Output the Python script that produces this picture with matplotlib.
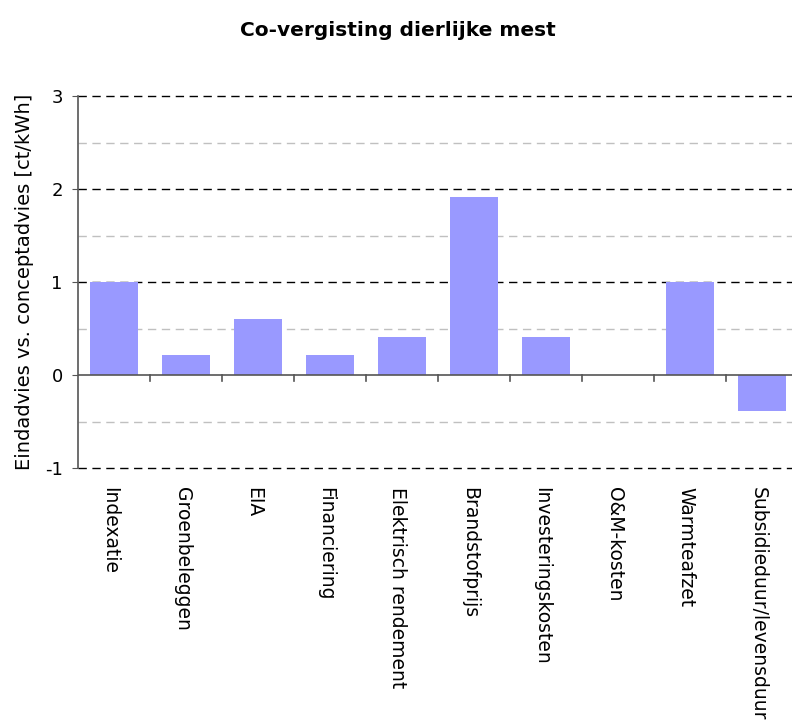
import matplotlib
matplotlib.use("Agg")
import matplotlib.pyplot as plt
import matplotlib.transforms as mtransforms
import numpy as np

categories = ["Indexatie", "Groenbeleggen", "EIA", "Financiering", "Elektrisch rendement",
              "Brandstofprijs", "Investeringskosten", "O&M-kosten", "Warmteafzet",
              "Subsidieduur/levensduur"]
values = [1.0, 0.22, 0.6, 0.22, 0.41, 1.91, 0.41, 0.0, 1.0, -0.39]
yticks = [-1, 0, 1, 2, 3]
title = "Co-vergisting dierlijke mest"
ylabel = "Eindadvies vs. conceptadvies [ct/kWh]"

plt.rcParams['font.family'] = ['DejaVu Sans']
W, H = 792, 725
fig = plt.figure(figsize=(W / 100, H / 100), dpi=100)
left, right, top, bottom = 78, 798, 96, 468
ax = fig.add_axes([left / W, 1 - bottom / H, (right - left) / W, (bottom - top) / H])

x = np.arange(len(categories))
ax.bar(x, values, width=0.68, color="#9999FF", zorder=3)
ax.set_xlim(-0.5, len(categories) - 0.5)
ax.set_ylim(-1, 3)

# grid
for v in np.arange(-1, 3.01, 0.5):
    if v == 0:
        continue
    if float(v).is_integer():
        ax.axhline(v, color="black", lw=1.0, ls=(0, (6, 4)), zorder=1, clip_on=False)
    else:
        ax.axhline(v, color="#C0C0C0", lw=1.0, ls=(0, (6, 4)), zorder=1, clip_on=False)
ax.axhline(0, color="#555555", lw=1.2, zorder=4)

# boundary ticks at zero line
trans = mtransforms.blended_transform_factory(ax.transData, ax.transAxes)
zero_ax = 1 / 4
for b in np.arange(0.5, len(categories) - 0.5, 1):
    ax.plot([b, b], [zero_ax, zero_ax - 6 / (bottom - top)], color="#555555", lw=1.2,
            transform=trans, zorder=4, clip_on=False)

for s in ["top", "right", "bottom"]:
    ax.spines[s].set_visible(False)
ax.spines["left"].set_color("#555555")
ax.spines["left"].set_linewidth(1.2)

ax.set_yticks(yticks)
ax.set_yticklabels([str(t) for t in yticks], fontsize=13)
ax.tick_params(axis="y", length=4.5, color="#555555", pad=6.5)

ax.set_xticks(x)
ax.set_xticklabels(categories, rotation=270, fontsize=13.5, va="top", ha="center",
                   rotation_mode="default")
ax.tick_params(axis="x", length=0, pad=13.5)
offset = mtransforms.ScaledTranslation(-4 / 100, 0, fig.dpi_scale_trans)
for lab in ax.get_xticklabels():
    lab.set_transform(lab.get_transform() + offset)

ax.set_ylabel(ylabel, fontsize=14, labelpad=8)
fig.text(398 / W, 1 - 30 / H, title, ha="center", va="center", fontsize=14.5, fontweight="bold")

fig.savefig("out.png", dpi=100)
